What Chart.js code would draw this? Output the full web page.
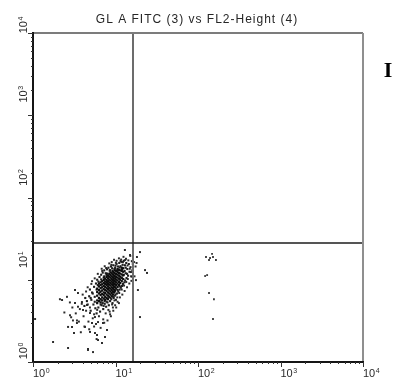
<!DOCTYPE html>
<html><head><meta charset="utf-8">
<script src="https://cdn.jsdelivr.net/npm/chart.js@4.4.1/dist/chart.umd.min.js"></script>
<style>html,body{margin:0;padding:0;background:#fff}canvas{display:block}</style>
</head><body><canvas id="c" width="400" height="377"></canvas>
<script>
// ---- chart values ----
const titleText = 'GL A FITC (3) vs FL2-Height (4)';
const panelLetter = 'I';
const axisMin = 1, axisMax = 10000;
const decadeTicks = [1, 10, 100, 1000, 10000];
const decadeExponents = ['0', '1', '2', '3', '4'];
const gateX = [16.3];   // vertical quadrant marker (GL A FITC)
const gateY = [28];     // horizontal quadrant marker (FL2-Height)

// dense core: [x, [y values seen at that x]]
const coreRows = [
  [6.0, [5.6, 6.4, 7.1, 7.8, 5.2]],
  [6.3, [6.0, 6.8, 7.5, 8.3, 5.5, 9.0]],
  [6.6, [5.8, 6.5, 7.2, 7.9, 8.6, 9.3, 5.3]],
  [6.9, [6.1, 6.7, 7.4, 8.1, 8.8, 9.6, 5.6]],
  [7.2, [5.9, 6.5, 7.0, 7.7, 8.4, 9.1, 9.9, 10.6]],
  [7.5, [6.2, 6.9, 7.5, 8.2, 8.9, 9.5, 10.3, 5.7]],
  [7.8, [6.0, 6.6, 7.3, 7.9, 8.6, 9.2, 9.9, 10.8, 11.5]],
  [8.1, [6.4, 7.0, 7.7, 8.3, 8.9, 9.6, 10.4, 11.2, 5.8]],
  [8.4, [6.2, 6.8, 7.4, 8.0, 8.7, 9.3, 10.0, 10.9, 11.8]],
  [8.7, [6.6, 7.2, 7.8, 8.5, 9.1, 9.8, 10.6, 11.4, 12.3]],
  [9.0, [6.9, 7.5, 8.1, 8.8, 9.5, 10.2, 11.0, 12.0, 6.3]],
  [9.3, [7.2, 7.9, 8.6, 9.2, 9.9, 10.7, 11.6, 12.6, 6.6]],
  [9.6, [7.6, 8.3, 9.0, 9.7, 10.4, 11.2, 12.2, 7.0]],
  [9.9, [7.4, 8.1, 8.8, 9.5, 10.3, 11.0, 11.9, 13.0]],
  [10.2, [7.8, 8.6, 9.3, 10.0, 10.8, 11.7, 12.7]],
  [10.6, [8.2, 9.0, 9.8, 10.6, 11.5, 12.4, 13.5]],
  [11.0, [8.6, 9.4, 10.3, 11.2, 12.1, 13.2]],
  [11.4, [9.1, 10.0, 10.9, 11.9, 13.0]],
  [11.9, [9.6, 10.6, 11.6, 12.8, 14.0]],
  [12.4, [10.2, 11.3, 12.5, 13.8]]
];

// looser ring around the core
const ringDots = [
  [4.2,4.8],[4.5,5.5],[4.8,6.3],[5.0,4.2],[5.2,7.0],[5.4,5.0],[5.5,8.2],[5.7,4.5],[5.8,9.0],[5.9,3.9],
  [6.0,10.0],[6.2,4.6],[6.4,10.8],[6.5,4.1],[6.7,11.5],[6.8,4.9],[7.0,12.2],[7.1,4.4],[7.3,13.0],[7.4,5.1],
  [7.6,12.0],[7.7,4.7],[7.9,13.4],[8.0,5.3],[8.2,14.0],[8.3,4.9],[8.5,12.9],[8.6,5.5],[8.8,14.5],[8.9,5.8],
  [9.1,13.8],[9.2,5.2],[9.4,15.0],[9.5,6.0],[9.7,13.5],[9.8,6.4],[10.0,14.8],[10.1,5.7],[10.3,15.6],[10.4,6.8],
  [10.7,14.5],[10.8,7.2],[11.1,16.0],[11.2,7.6],[11.5,14.6],[11.6,8.0],[11.8,16.5],[12.0,8.4],[12.2,15.2],[12.3,8.9],
  [12.6,17.0],[12.8,9.3],[13.0,15.0],[13.1,9.8],[13.3,12.0],[13.5,16.0],[13.6,10.5],[13.9,13.5],[14.2,11.2],[14.5,15.5],
  [14.8,12.5],[15.2,14.2],[15.5,11.0],[15.8,16.8],[16.0,13.0],[5.0,6.0],[5.3,6.8],[5.6,5.4],[5.9,7.6],[6.1,8.6],
  [4.6,5.0],[4.9,7.6],[5.1,5.7],[4.3,6.0],[5.6,6.2],[6.2,9.5],[6.7,10.1],[7.3,11.0],[7.9,11.9],[8.6,13.1],
  [9.2,12.9],[9.9,13.9],[10.5,13.0],[11.2,14.1],[12.0,13.4],[12.6,11.5],[13.3,14.0],[11.8,10.5],[12.9,12.8],[13.8,11.8],
  [9.4,6.2],[10.0,6.6],[10.6,7.5],[11.3,8.3],[8.7,6.0],[9.8,7.2],[7.4,5.5],[8.0,5.9],[6.6,5.0],[7.0,5.2]
];

// scattered halo of single events around the population
const haloDots = [
  [4.1,3.6],[4.4,7.2],[4.7,3.1],[5.1,8.9],[5.3,3.4],[5.6,10.4],[5.8,2.9],[6.1,11.8],[6.3,3.6],[6.5,7.0],
  [6.8,13.6],[7.1,3.3],[7.4,14.6],[7.6,3.9],[7.9,9.4],[8.2,4.3],[8.4,15.8],[8.8,3.6],[9.0,16.4],[9.3,4.6],
  [9.6,17.5],[9.9,4.9],[10.3,17.0],[10.6,5.4],[11.0,18.2],[11.3,6.1],[11.7,17.6],[12.1,6.6],[12.5,19.0],[12.9,7.3],
  [13.4,18.0],[13.8,8.1],[14.3,17.2],[14.7,9.0],[15.1,19.5],[15.6,9.7],[16.2,15.5],[17.0,11.0],[17.5,14.5],[18.0,16.0],
  [4.9,4.6],[5.5,3.8],[6.0,4.3],[6.4,5.6],[7.2,4.8],[7.8,5.4],[8.5,4.1],[9.1,5.0],[9.7,5.6],[10.5,6.1],
  [11.1,6.9],[11.9,7.6],[12.7,8.5],[13.5,9.4],[14.1,10.2],[6.9,12.8],[7.7,13.9],[8.9,15.2],[10.1,16.1],[11.5,16.9],
  [12.3,16.4],[13.1,17.4],[14.0,14.9],[14.9,13.6],[15.4,12.4],[16.1,10.8],[4.4,4.2],[3.9,5.1],[3.7,4.4],[4.0,6.6],
  [4.6,8.1],[5.2,9.6],[3.3,3.9],[3.0,4.6],[2.8,5.3],[3.6,3.1],[4.2,2.7],[4.8,2.5],[5.5,2.7],[6.6,2.6],
  [7.3,3.0],[8.0,3.2],[8.6,3.8],[9.4,4.2],[10.2,4.6],[11.0,5.2],[2.4,4.0],[2.9,3.5],[3.8,2.3],[5.9,1.9]
];

// sparse tail toward low values and a few events just past the gate
const tailDots = [
  [2.58,6.2],[2.12,5.8],[3.23,5.2],[3.51,4.7],[2.81,3.7],[3.41,3.2],[3.41,2.98],[2.66,2.67],[3.14,2.25],[1.75,1.75],
  [2.66,1.48],[4.64,1.40],[5.34,1.32],[1.06,3.33],[4.27,2.67],[4.91,2.32],[5.64,2.25],[6.14,1.85],[6.86,1.70],[7.46,2.01],
  [7.89,2.45],[7.05,2.98],[6.14,3.06],[5.19,2.98],[5.64,3.52],[4.91,3.94],[4.04,4.29],[4.51,4.93],[3.92,5.36],[3.51,6.9],
  [3.23,7.5],[2.25,5.67],[3.05,3.2],[2.97,2.67],[5.97,2.13],[4.64,1.44],
  [19.8,21.7],[18.2,18.9],[22.8,13.1],[24.1,12.1],[19.8,3.52],[16.8,16.4],[15.0,20.0],[13.0,23.0],[17.7,9.9],[18.7,7.5]
];

// small group of events near 10^2 on the x axis
const sideDots = [
  [140,18.4],[125,18.9],[152,18.9],[136,17.4],[165,17.4],[148,20.6],[122,11.1],[129,11.4],[136,6.9],[156,5.8],[152,3.33]
];

// ---- build ----
const toPts = list => list.map(p => ({x: p[0], y: p[1]}));
const corePts = [];
coreRows.forEach(r => r[1].forEach(v => corePts.push({x: r[0], y: v})));

const yLabelShift = [-11, -20, -20, -21, -8];

function seg(ctx, x1, y1, x2, y2) { ctx.beginPath(); ctx.moveTo(x1, y1); ctx.lineTo(x2, y2); ctx.stroke(); }
function isDecade(v) { const l = Math.log10(v); return Math.abs(l - Math.round(l)) < 1e-9; }
function isWholeStep(v) { const m = v / Math.pow(10, Math.floor(Math.log10(v) + 1e-9)); return Math.abs(m - Math.round(m)) < 1e-6; }

const deco = {
  id: 'deco',
  beforeDraw(c) {
    const ctx = c.ctx;
    ctx.save(); ctx.fillStyle = '#fff'; ctx.fillRect(0, 0, c.width, c.height); ctx.restore();
  },
  afterDatasetsDraw(c) {
    const {ctx, chartArea: a, scales: {x, y}} = c;
    ctx.save();
    // quadrant markers
    gateX.forEach(v => { const px = Math.round(x.getPixelForValue(v)); ctx.strokeStyle = '#6c6c6c'; ctx.lineWidth = 2; seg(ctx, px, a.top, px, a.bottom); });
    gateY.forEach(v => { const py = Math.round(y.getPixelForValue(v)); ctx.strokeStyle = '#1c1c1c'; ctx.lineWidth = 1.6; seg(ctx, a.left, py, a.right, py); });
    // frame
    ctx.lineWidth = 2;
    ctx.strokeStyle = '#7c7c7c'; seg(ctx, a.left, a.top, a.right, a.top);
    ctx.strokeStyle = '#8f8f8f'; seg(ctx, a.right, a.top, a.right, a.bottom);
    ctx.strokeStyle = '#151515'; seg(ctx, a.left, a.top - 1, a.left, a.bottom + 1); seg(ctx, a.left - 1, a.bottom, a.right + 1, a.bottom);
    // tick marks from the library's own log ticks
    ctx.lineWidth = 1; ctx.strokeStyle = '#333';
    x.ticks.forEach(t => { if (!isWholeStep(t.value)) return; const px = Math.round(x.getPixelForValue(t.value)) + 0.5; seg(ctx, px, a.bottom, px, a.bottom + (isDecade(t.value) ? 5 : 2)); });
    y.ticks.forEach(t => { if (!isWholeStep(t.value)) return; const py = Math.round(y.getPixelForValue(t.value)) + 0.5; seg(ctx, a.left - (isDecade(t.value) ? 5 : 2), py, a.left, py); });
    // tick labels
    ctx.fillStyle = '#2a2a2a';
    ctx.textBaseline = 'alphabetic';
    decadeTicks.forEach((v, i) => {
      const px = x.getPixelForValue(v);
      ctx.font = '11px "Liberation Sans", Arial, sans-serif';
      ctx.textAlign = 'left';
      ctx.fillText('10', px, 377);
      const w = ctx.measureText('10').width;
      ctx.font = '7px "Liberation Sans", Arial, sans-serif';
      ctx.fillText(decadeExponents[i], px + w + 0.5, 373);
    });
    decadeTicks.forEach((v, i) => {
      const cy = y.getPixelForValue(v) + yLabelShift[i];
      ctx.save();
      ctx.translate(27, cy);
      ctx.rotate(-Math.PI / 2);
      ctx.font = '11px "Liberation Sans", Arial, sans-serif';
      const w = ctx.measureText('10').width;
      ctx.font = '7px "Liberation Sans", Arial, sans-serif';
      const ws = ctx.measureText(decadeExponents[i]).width;
      const start = -(w + ws + 0.5) / 2;
      ctx.textAlign = 'left';
      ctx.font = '11px "Liberation Sans", Arial, sans-serif';
      ctx.fillText('10', start, 0);
      ctx.font = '7px "Liberation Sans", Arial, sans-serif';
      ctx.fillText(decadeExponents[i], start + w + 0.5, -4);
      ctx.restore();
    });
    // title
    ctx.font = '12px "Liberation Sans", Arial, sans-serif';
    ctx.letterSpacing = '1px';
    ctx.textAlign = 'center';
    ctx.textBaseline = 'middle';
    ctx.fillStyle = '#262626';
    ctx.fillText(titleText, 197, 20);
    ctx.letterSpacing = '0px';
    // panel letter
    ctx.font = 'bold 22px "Liberation Serif", "Times New Roman", serif';
    ctx.fillStyle = '#000';
    ctx.fillText(panelLetter, 388, 71);
    ctx.restore();
  }
};

const dotBase = {pointStyle: 'rect', borderWidth: 0, showLine: false};
new Chart(document.getElementById('c'), {
  type: 'scatter',
  data: {
    datasets: [
      Object.assign({label: 'core', data: corePts, backgroundColor: '#0d0d0d', pointRadius: 1.6}, dotBase),
      Object.assign({label: 'ring', data: toPts(ringDots), backgroundColor: '#1e1e1e', pointRadius: 1.5}, dotBase),
      Object.assign({label: 'halo', data: toPts(haloDots), backgroundColor: '#2a2a2a', pointRadius: 1.4}, dotBase),
      Object.assign({label: 'tail', data: toPts(tailDots), backgroundColor: '#2c2c2c', pointRadius: 1.4}, dotBase),
      Object.assign({label: 'side', data: toPts(sideDots), backgroundColor: '#3c3c3c', pointRadius: 1.3}, dotBase)
    ]
  },
  options: {
    responsive: false,
    animation: false,
    events: [],
    layout: {padding: {top: 33, right: 37, bottom: 0, left: 0}},
    plugins: {legend: {display: false}, tooltip: {enabled: false}, title: {display: false}},
    scales: {
      x: {type: 'logarithmic', min: axisMin, max: axisMax,
          ticks: {display: false}, grid: {display: false}, border: {display: false},
          afterFit: s => { s.height = 15; }},
      y: {type: 'logarithmic', min: axisMin, max: axisMax,
          ticks: {display: false}, grid: {display: false}, border: {display: false},
          afterFit: s => { s.width = 33; }}
    }
  },
  plugins: [deco]
});
</script>
</body></html>
